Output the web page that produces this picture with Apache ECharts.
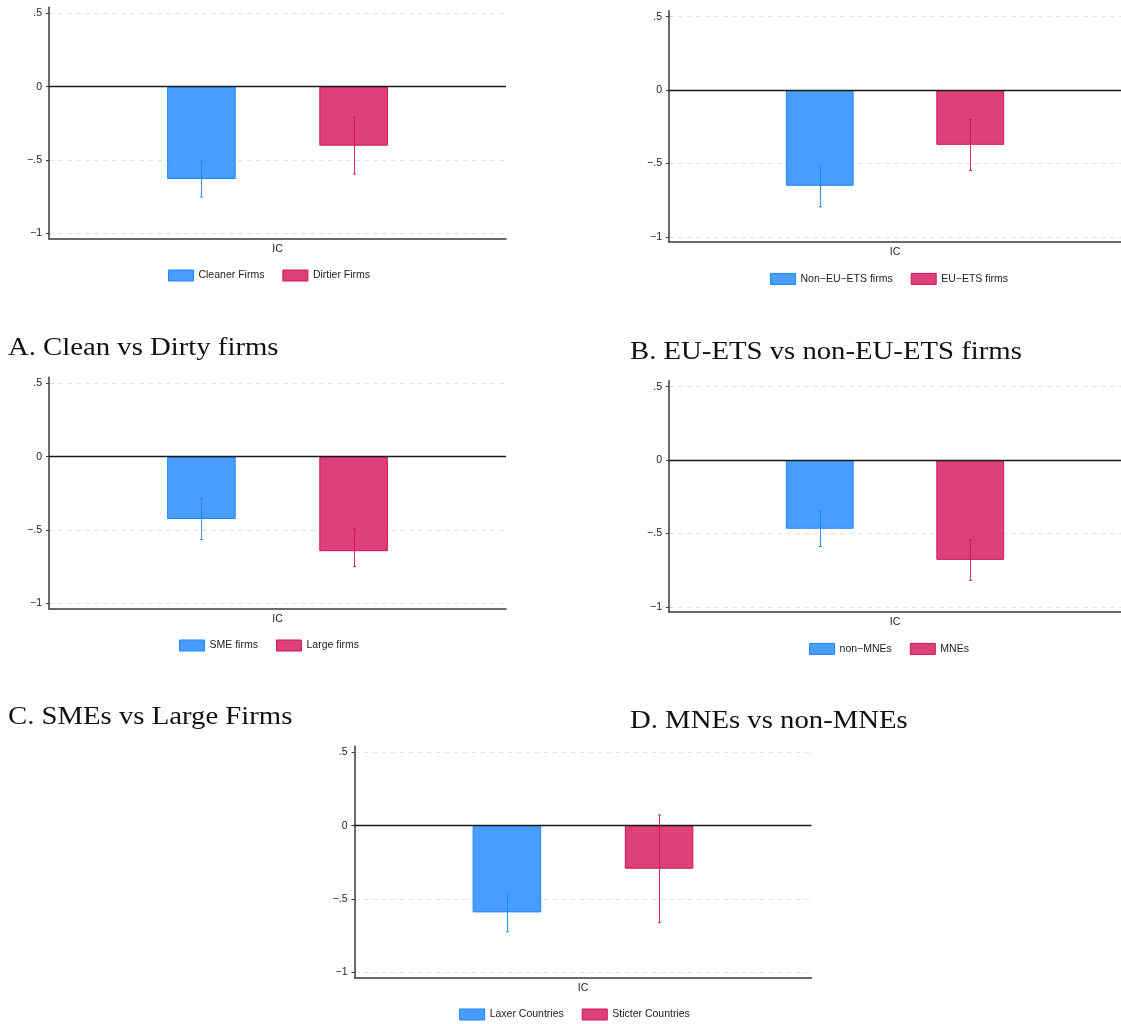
<!DOCTYPE html>
<html>
<head>
<meta charset="utf-8">
<script src="https://cdn.jsdelivr.net/npm/echarts@6/dist/echarts.min.js"></script>
<style>
html,body{margin:0;padding:0;background:#fff;overflow:hidden;}
#chart{width:1121px;height:1024px;}
</style>
</head>
<body>
<div id="chart"></div>
<script>
// ---------------- DATA ----------------
const categories = ['IC'];
const panelTitles = ['A. Clean vs Dirty firms', 'B. EU-ETS vs non-EU-ETS firms', 'C. SMEs vs Large Firms', 'D. MNEs vs non-MNEs'];
const blueNames = ['Cleaner Firms', 'Non\u2212EU\u2212ETS firms', 'SME firms', 'non\u2212MNEs', 'Laxer Countries'];
const redNames  = ['Dirtier Firms', 'EU\u2212ETS firms', 'Large firms', 'MNEs', 'Sticter Countries'];
const blueValues = [-0.629, -0.652, -0.425, -0.468, -0.591];
const blueLow    = [-0.752, -0.795, -0.564, -0.589, -0.723];
const blueHigh   = [-0.509, -0.514, -0.285, -0.345, -0.464];
const redValues  = [-0.402, -0.373, -0.644, -0.680, -0.293];
const redLow     = [-0.595, -0.548, -0.749, -0.820, -0.661];
const redHigh    = [-0.207, -0.200, -0.491, -0.541, 0.073];
const yTickValues = [-1, -0.5, 0, 0.5];
const yTickLabels = ['\u22121', '\u2212.5', '0', '.5'];

// ---------------- LAYOUT / STYLE ----------------
const BLUE = '#1a85ff', RED = '#d41159';
const BLUE_FILL = 'rgba(26,133,255,0.8)', RED_FILL = 'rgba(212,17,89,0.8)';
const panelPos = [[49, 7.3], [669, 10.7], [49, 377.3], [669, 380.7], [354.5, 746.3]];
const PW = 457, PH = 231.4;
const Y_MIN = -1.036, Y_MAX = 0.541;
const BAR_W = 0.15, BAR_GAP = 1.22;
const titlePos = [[8, 348], [630, 352], [8, 717], [630, 721]];
const LEG_FONT = '10.5px "Liberation Sans"';
const FONT = '"Liberation Sans", Arial, sans-serif';

const ctx = document.createElement('canvas').getContext('2d');
ctx.font = LEG_FONT;
const tw = s => ctx.measureText(s).width;

const grids = [], xAxes = [], yAxes = [], series = [], legends = [];
panelPos.forEach((p, i) => {
  grids.push({left: p[0], top: p[1], width: PW, height: PH});
  xAxes.push({
    type: 'category', gridIndex: i, data: categories,
    axisLine: {onZero: false, lineStyle: {color: '#3a3a3a', width: 1.5}},
    axisTick: {alignWithLabel: true, length: 4, lineStyle: {color: '#3a3a3a'}},
    axisLabel: {margin: 5, fontSize: 10.5, color: '#222', fontFamily: FONT},
    splitLine: {show: false}
  });
  yAxes.push({
    type: 'value', gridIndex: i, min: Y_MIN, max: Y_MAX,
    axisLine: {show: true, lineStyle: {color: '#3a3a3a', width: 1.5}},
    axisTick: {show: true, length: 3, customValues: yTickValues, lineStyle: {color: '#3a3a3a'}},
    axisLabel: {
      customValues: yTickValues, margin: 7, fontSize: 10.5, color: '#222', fontFamily: FONT,
      formatter: v => yTickLabels[yTickValues.indexOf(Math.round(v * 100) / 100)]
    },
    splitLine: {show: false}
  });
  const gridLines = yTickValues.filter(v => v !== 0).map(v => ({yAxis: v}));
  series.push({
    type: 'bar', name: blueNames[i], xAxisIndex: i, yAxisIndex: i,
    data: [blueValues[i]], barWidth: (BAR_W * 100) + '%', barGap: (BAR_GAP * 100) + '%',
    itemStyle: {color: BLUE_FILL, borderColor: BLUE, borderWidth: 1},
    emphasis: {disabled: true},
    markLine: {
      silent: true, symbol: 'none', z: 0, label: {show: false},
      lineStyle: {color: '#e3e3e3', type: [5, 4], width: 1},
      data: gridLines
    }
  });
  series.push({
    type: 'bar', name: redNames[i], xAxisIndex: i, yAxisIndex: i,
    data: [redValues[i]], barWidth: (BAR_W * 100) + '%', barGap: (BAR_GAP * 100) + '%',
    itemStyle: {color: RED_FILL, borderColor: RED, borderWidth: 1},
    emphasis: {disabled: true},
    markLine: {
      silent: true, symbol: 'none', z: 4, label: {show: false},
      lineStyle: {color: '#1a1a1a', type: 'solid', width: 1.3},
      data: [{yAxis: 0}]
    }
  });
  [[blueLow, blueHigh, -1, BLUE], [redLow, redHigh, 1, RED]].forEach(([lo, hi, sign, col]) => {
    series.push({
      type: 'custom', xAxisIndex: i, yAxisIndex: i, z: 6, silent: true,
      data: [[0, lo[i], hi[i]]],
      renderItem: (params, api) => {
        const a = api.coord([api.value(0), api.value(1)]);
        const b = api.coord([api.value(0), api.value(2)]);
        const band = api.size([1, 0])[0];
        const cx = Math.round(a[0] + sign * band * BAR_W * (1 + BAR_GAP) / 2) + 0.5;
        const st = {stroke: col, lineWidth: 1, opacity: 0.9};
        return {type: 'group', children: [
          {type: 'line', shape: {x1: cx, y1: b[1], x2: cx, y2: a[1]}, style: st},
          {type: 'line', shape: {x1: cx - 1.5, y1: b[1], x2: cx + 1.5, y2: b[1]}, style: st},
          {type: 'line', shape: {x1: cx - 1.5, y1: a[1], x2: cx + 1.5, y2: a[1]}, style: st}
        ]};
      }
    });
  });
  const total = 2 * (25 + 5) + tw(blueNames[i]) + tw(redNames[i]) + 18;
  const cx = p[0] + 219.5;
  const cy = p[1] + PH + 37.3;
  legends.push({
    data: [blueNames[i], redNames[i]], left: cx - total / 2, top: cy - 6.5,
    itemWidth: 25, itemHeight: 11, itemGap: 18, padding: 0,
    icon: 'rect', selectedMode: false,
    itemStyle: {borderWidth: 1},
    textStyle: {fontSize: 10.5, color: '#222', fontFamily: FONT}
  });
});

const graphics = panelTitles.map((t, i) => ({
  type: 'text', x: titlePos[i][0], y: titlePos[i][1], scaleX: 1.105,
  style: {text: t, font: '26px "Liberation Serif"', fill: '#111', align: 'left', verticalAlign: 'middle'}
}));

const chart = echarts.init(document.getElementById('chart'), null, {renderer: 'canvas'});
chart.setOption({
  animation: false,
  backgroundColor: '#fff',
  grid: grids, xAxis: xAxes, yAxis: yAxes, series: series, legend: legends,
  graphic: graphics
});
</script>
</body>
</html>
